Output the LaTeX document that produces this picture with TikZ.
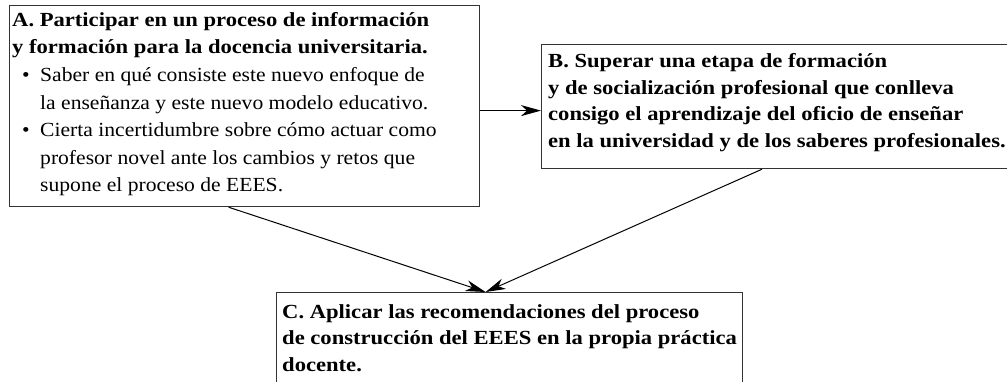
\documentclass[tikz,border=0pt]{standalone}
\usepackage{fontspec}
\setmainfont{Liberation Serif}[FakeStretch=1.08, BoldFeatures={FakeStretch=1.13}]
\usetikzlibrary{arrows.meta}
\begin{document}
\begin{tikzpicture}[x=1pt,y=-1pt,
  boxnode/.style={draw=black!80, line width=1.2pt, rectangle, inner sep=0pt, anchor=north west},
  txt/.style={anchor=north west, inner sep=0pt, align=left},
  txta/.style={txt, font=\fontsize{20}{27.6}\selectfont},
  txtb/.style={txt, font=\fontsize{20}{26.8}\selectfont},
  arr/.style={draw=black, line width=1pt, -{Stealth[length=20pt,width=11pt,inset=6pt]}}]
\useasboundingbox (0,0) rectangle (1007,381);
\node[boxnode, minimum width=470pt, minimum height=201pt] (boxA) at (9,5) {};
\node[boxnode, minimum width=470pt, minimum height=124pt] (boxB) at (541,44) {};
\node[boxnode, minimum width=466pt, minimum height=120pt] (boxC) at (276,292) {};
\node[txta] (textA) at (12,12) {\textbf{A. Participar en un proceso de información}\\
\textbf{y formación para la docencia universitaria.}\\
\hspace*{10pt}\makebox[18pt][l]{\textbullet}Saber en qué consiste este nuevo enfoque de\\
\hspace*{28pt}la enseñanza y este nuevo modelo educativo.\\
\hspace*{10pt}\makebox[18pt][l]{\textbullet}Cierta incertidumbre sobre cómo actuar como\\
\hspace*{28pt}profesor novel ante los cambios y retos que\\
\hspace*{28pt}supone el proceso de EEES.};
\node[txtb] (textB) at (548,53) {\textbf{B. Superar una etapa de formación}\\
\textbf{y de socialización profesional que conlleva}\\
\textbf{consigo el aprendizaje del oficio de enseñar}\\
\textbf{en la universidad y de los saberes profesionales.}};
\node[txtb] (textC) at (282,304) {\textbf{C. Aplicar las recomendaciones del proceso}\\
\textbf{de construcción del EEES en la propia práctica}\\
\textbf{docente.}};
\coordinate (tip) at ([xshift=-24pt]boxC.north);
\draw[arr] ([yshift=-4.5pt]boxA.east) -- ([yshift=-4.5pt]boxA.east -| boxB.west);
\draw[arr] ([xshift=-16pt]boxA.south) -- (tip);
\draw[arr] ([xshift=221pt]boxB.south west) -- (tip);
\end{tikzpicture}
\end{document}
